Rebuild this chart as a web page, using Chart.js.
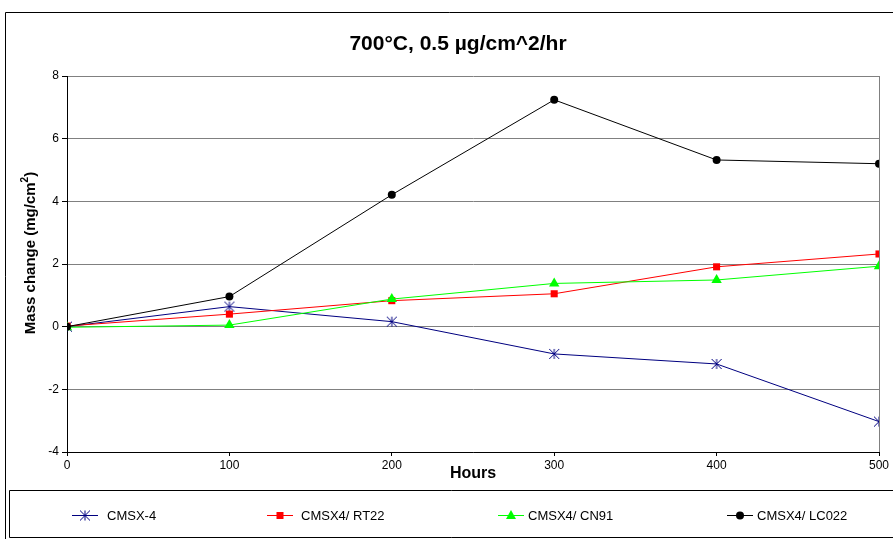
<!DOCTYPE html>
<html>
<head>
<meta charset="utf-8">
<script src="https://cdn.jsdelivr.net/npm/chart.js@4/dist/chart.umd.min.js"></script>
<style>
  html, body { margin: 0; padding: 0; background: #fff; }
  #wrap { position: relative; width: 893px; height: 539px; }
</style>
</head>
<body>
<div id="wrap"><canvas id="c" width="893" height="539"></canvas></div>
<script>
// Exposure time (hours)
const hours = [0, 100, 200, 300, 400, 500];

// Mass change (mg/cm^2) per alloy / coating
const cmsx4  = [0, 0.64, 0.16, -0.87, -1.19, -3.03];
const rt22   = [0.02, 0.40, 0.83, 1.05, 1.91, 2.32];
const cn91   = [-0.02, 0.05, 0.88, 1.38, 1.49, 1.93];
const lc022  = [0, 0.96, 4.21, 7.24, 5.32, 5.20];

const seriesNames = ['CMSX-4', 'CMSX4/ RT22', 'CMSX4/ CN91', 'CMSX4/ LC022'];
const yTicks = [-4, -2, 0, 2, 4, 6, 8];
const xTicks = [0, 100, 200, 300, 400, 500];

const FONT = "'Liberation Sans', Arial, sans-serif";

// six-armed asterisk marker (X with a vertical stroke)
function makeStar(color, r) {
  const s = r * 2 + 2;
  const cv = document.createElement('canvas');
  cv.width = s; cv.height = s;
  const g = cv.getContext('2d');
  const c = s / 2;
  g.strokeStyle = color; g.lineWidth = 1;
  g.beginPath();
  g.moveTo(c - r, c - r); g.lineTo(c + r, c + r);
  g.moveTo(c + r, c - r); g.lineTo(c - r, c + r);
  g.moveTo(c, c - r); g.lineTo(c, c + r);
  g.stroke();
  return cv;
}
const starImg = makeStar('#000080', 5);

const pts = arr => hours.map((h, i) => ({ x: h, y: arr[i] }));

const styles = [
  { color: '#000080', pointStyle: starImg, radius: 5, order: 4 },
  { color: '#FF0000', pointStyle: 'rect', radius: 5, order: 3 },
  { color: '#00FF00', pointStyle: 'triangle', radius: 6, order: 2 },
  { color: '#000000', pointStyle: 'circle', radius: 4, order: 1 }
];
const values = [cmsx4, rt22, cn91, lc022];

const datasets = values.map((v, i) => ({
  label: seriesNames[i],
  data: pts(v),
  borderColor: styles[i].color,
  backgroundColor: styles[i].color,
  pointBackgroundColor: styles[i].color,
  pointBorderColor: styles[i].color,
  pointBorderWidth: 0,
  pointStyle: styles[i].pointStyle,
  pointRadius: styles[i].radius,
  borderWidth: 1,
  tension: 0,
  order: styles[i].order
}));

// frame, titles, right plot border and bottom legend box
const decor = {
  id: 'decor',
  beforeDraw(chart) {
    const ctx = chart.ctx;
    ctx.save();
    ctx.fillStyle = '#fff';
    ctx.fillRect(0, 0, chart.width, chart.height);
    ctx.restore();
  },
  afterDraw(chart) {
    const ctx = chart.ctx;
    const a = chart.chartArea;
    ctx.save();
    // outer frame
    ctx.strokeStyle = '#000';
    ctx.lineWidth = 1;
    ctx.beginPath();
    ctx.moveTo(5.5, 600); ctx.lineTo(5.5, 12.5); ctx.lineTo(900, 12.5);
    ctx.stroke();
    // right edge of plot area
    ctx.strokeStyle = '#808080';
    ctx.beginPath();
    ctx.moveTo(Math.round(a.right) + 0.5, a.top); ctx.lineTo(Math.round(a.right) + 0.5, a.bottom);
    ctx.stroke();

    // chart title
    ctx.fillStyle = '#000';
    ctx.font = 'bold 21px ' + FONT;
    ctx.textAlign = 'center';
    ctx.textBaseline = 'middle';
    ctx.fillText('700°C, 0.5 µg/cm^2/hr', 458, 44);

    // x axis title
    ctx.font = 'bold 16px ' + FONT;
    ctx.fillText('Hours', 473, 474);

    // y axis title with superscript
    ctx.save();
    ctx.translate(31, 253);
    ctx.rotate(-Math.PI / 2);
    const main = 'Mass change (mg/cm';
    ctx.font = 'bold 15px ' + FONT;
    const wMain = ctx.measureText(main).width;
    ctx.font = 'bold 10px ' + FONT;
    const wSup = ctx.measureText('2').width;
    ctx.font = 'bold 15px ' + FONT;
    const wEnd = ctx.measureText(')').width;
    let x0 = -(wMain + wSup + wEnd) / 2;
    ctx.textAlign = 'left';
    ctx.fillText(main, x0, 0);
    ctx.font = 'bold 10px ' + FONT;
    ctx.fillText('2', x0 + wMain, -6);
    ctx.font = 'bold 15px ' + FONT;
    ctx.fillText(')', x0 + wMain + wSup, 0);
    ctx.restore();

    // legend box
    ctx.strokeStyle = '#000';
    ctx.beginPath();
    ctx.moveTo(900, 490.5); ctx.lineTo(9.5, 490.5); ctx.lineTo(9.5, 537.5); ctx.lineTo(900, 537.5);
    ctx.stroke();

    const legendX = [85, 280, 511, 740];
    const textX = [107, 301, 528, 757];
    const ly = 515;
    ctx.font = '13px ' + FONT;
    ctx.textAlign = 'left';
    ctx.textBaseline = 'middle';
    seriesNames.forEach((name, i) => {
      const st = styles[i];
      const cx = legendX[i];
      ctx.strokeStyle = st.color;
      ctx.lineWidth = 1;
      ctx.beginPath();
      ctx.moveTo(cx - 13, ly + 0.5); ctx.lineTo(cx + 13, ly + 0.5);
      ctx.stroke();
      ctx.fillStyle = st.color;
      if (i === 0) {
        ctx.drawImage(starImg, cx - starImg.width / 2, ly - starImg.height / 2 + 0.5);
      } else if (i === 1) {
        ctx.fillRect(cx - 3.5, ly - 3, 7, 7);
      } else if (i === 2) {
        ctx.beginPath();
        ctx.moveTo(cx, ly - 5); ctx.lineTo(cx + 5, ly + 4); ctx.lineTo(cx - 5, ly + 4);
        ctx.closePath(); ctx.fill();
      } else {
        ctx.beginPath(); ctx.arc(cx, ly + 0.5, 4, 0, Math.PI * 2); ctx.fill();
      }
      ctx.fillStyle = '#000';
      ctx.fillText(name, textX[i], ly + 1);
    });
    ctx.restore();
  }
};

new Chart(document.getElementById('c'), {
  type: 'line',
  data: { datasets },
  options: {
    responsive: false,
    animation: false,
    devicePixelRatio: 1,
    layout: { padding: { left: 0, right: 14, top: 76, bottom: 0 } },
    plugins: { legend: { display: false }, title: { display: false }, tooltip: { enabled: false } },
    scales: {
      x: {
        type: 'linear',
        min: 0, max: 500,
        afterBuildTicks: s => { s.ticks = xTicks.map(v => ({ value: v })); },
        afterFit: s => { s.height = 87; },
        ticks: { font: { family: FONT, size: 12 }, color: '#000', padding: 2, maxRotation: 0 },
        grid: { drawOnChartArea: false, drawTicks: true, tickLength: 4, tickColor: '#000' },
        border: { display: true, color: '#000', width: 1 }
      },
      y: {
        min: -4, max: 8,
        afterBuildTicks: s => { s.ticks = yTicks.map(v => ({ value: v })); },
        afterFit: s => { s.width = 67; },
        ticks: { font: { family: FONT, size: 12 }, color: '#000', padding: 3 },
        grid: { color: '#808080', lineWidth: 1, drawTicks: true, tickLength: 5, tickColor: '#000' },
        border: { display: true, color: '#000', width: 1 }
      }
    }
  },
  plugins: [decor]
});
</script>
</body>
</html>
